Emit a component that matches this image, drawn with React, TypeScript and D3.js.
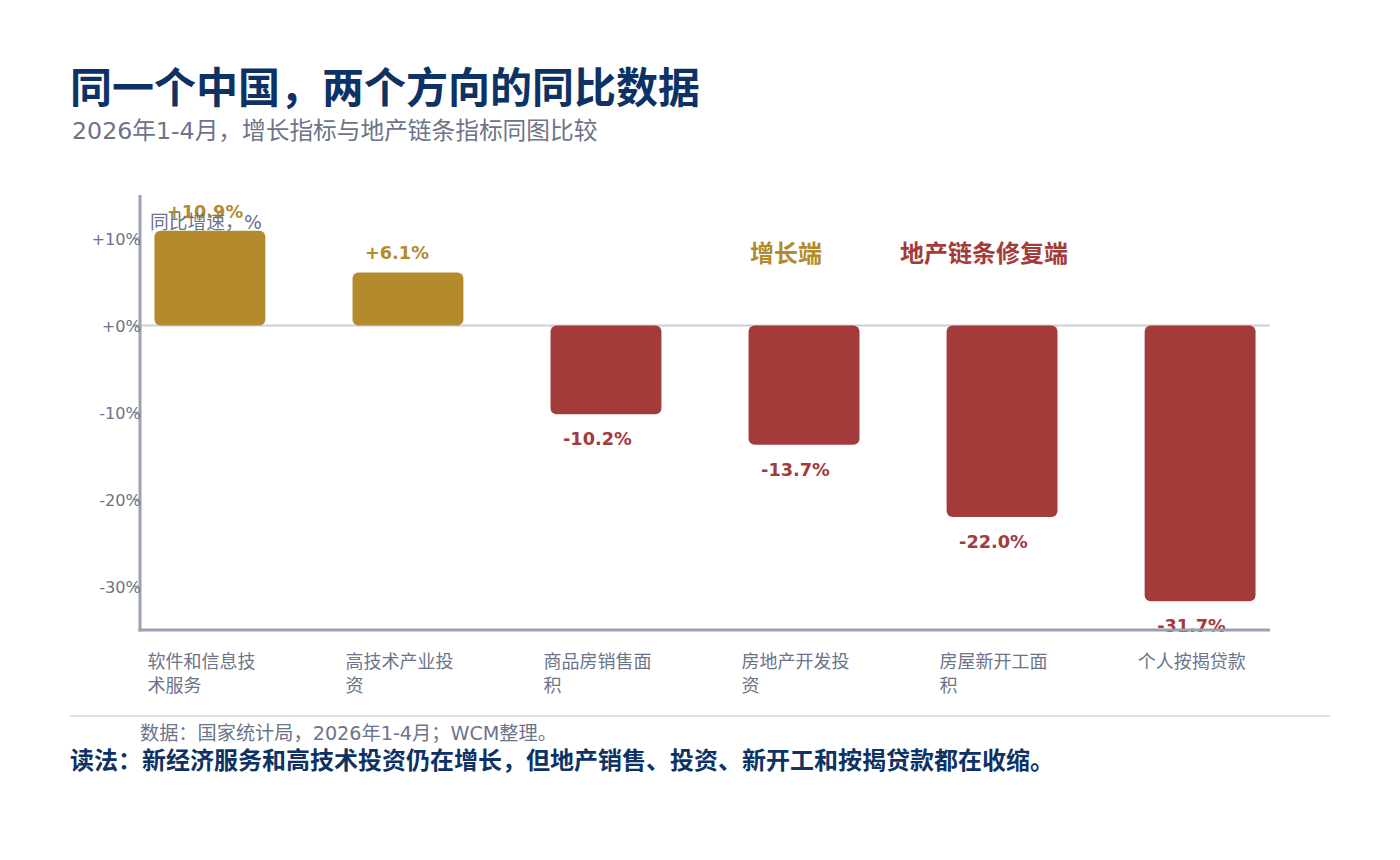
import React from "react";
import * as d3 from "d3";

const categories = ["软件和信息技术服务", "高技术产业投资", "商品房销售面积", "房地产开发投资", "房屋新开工面积", "个人按揭贷款"];
const values = [10.9, 6.1, -10.2, -13.7, -22.0, -31.7];
const yTicks = [10, 0, -10, -20, -30];

const W = 1400, H = 860;
const FONT = "'DejaVu Sans', 'Noto Sans CJK SC', sans-serif";
const GOLD = "#B38A2C";
const RED = "#A33B3B";
const NAVY = "#0D3263";
const GRAY = "#6B7489";
const AXIS = "#9AA1B0";

function wrap(s: string, n: number): string[] {
  const out: string[] = [];
  for (let i = 0; i < s.length; i += n) out.push(s.slice(i, i + n));
  return out;
}

export default function App() {
  const x = d3.scaleBand<string>().domain(categories).range([140, 1270]).paddingInner(0.44).paddingOuter(0.073);
  const y = d3.scaleLinear().domain([-35, 15]).range([630, 195]);
  const fmt = (v: number) => (v > 0 ? "+" : "") + v.toFixed(1) + "%";
  const tickFmt = (v: number) => (v >= 0 ? "+" : "") + v + "%";
  return (
    <svg width={W} height={H} style={{ position: "absolute", left: 0, top: 0, background: "#fff" }} fontFamily={FONT}>
      <text x={70} y={103} fontSize={42} fontWeight={700} fill={NAVY}>同一个中国，两个方向的同比数据</text>
      <text x={72} y={139} fontSize={23.7} fill={GRAY}>2026年1-4月，增长指标与地产链条指标同图比较</text>

      {/* zero line */}
      <line x1={140} x2={1270} y1={y(0)} y2={y(0)} stroke="#CBD0D8" strokeWidth={2} />

      {categories.map((c, i) => {
        const v = values[i];
        const x0 = x(c)!;
        const bw = x.bandwidth();
        const top = y(Math.max(0, v));
        const h = Math.abs(y(v) - y(0));
        const col = v >= 0 ? GOLD : RED;
        const ly = v >= 0 ? y(v) - 13 : y(v) + 31;
        return (
          <g key={c}>
            <rect x={x0} y={top} width={bw} height={h} rx={6} ry={6} fill={col} />
            <text x={x0 + 12.5} y={ly} fontSize={17.7} fontWeight={700} fill={col}>{fmt(v)}</text>
            {wrap(c, 6).map((line, j) => (
              <text key={j} x={x0 - 7} y={668 + j * 24} fontSize={18} fill={GRAY}>{line}</text>
            ))}
          </g>
        );
      })}

      {/* axes */}
      <line x1={140} x2={140} y1={195} y2={631.5} stroke={AXIS} strokeWidth={3} />
      <line x1={138.5} x2={1270} y1={630} y2={630} stroke={AXIS} strokeWidth={3} />
      {yTicks.map((t) => (
        <g key={t}>
          <line x1={133} x2={140} y1={y(t)} y2={y(t)} stroke={AXIS} strokeWidth={2} />
          <text x={141} y={y(t) + 6} textAnchor="end" fontSize={16.2} fill={GRAY}>{tickFmt(t)}</text>
        </g>
      ))}
      <text x={150} y={229} fontSize={18.8} fill={GRAY}>同比增速，%</text>

      <text x={750} y={262} fontSize={24} fontWeight={700} fill={GOLD}>增长端</text>
      <text x={900} y={262} fontSize={24} fontWeight={700} fill={RED}>地产链条修复端</text>

      <line x1={70} x2={1330} y1={716} y2={716} stroke="#D9E1EA" strokeWidth={2} />
      <text x={140} y={740} fontSize={19.2} fill={GRAY}>数据：国家统计局，2026年1-4月；WCM整理。</text>
      <text x={70} y={769} fontSize={24} fontWeight={700} fill={NAVY}>读法：新经济服务和高技术投资仍在增长，但地产销售、投资、新开工和按揭贷款都在收缩。</text>
    </svg>
  );
}
